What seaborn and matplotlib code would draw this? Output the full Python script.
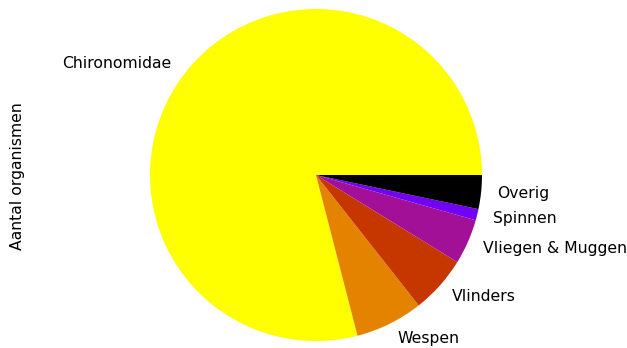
import matplotlib
matplotlib.use("Agg")
import matplotlib.pyplot as plt
import numpy as np
import seaborn as sns

# Counts of organisms per group
categories = ["Chironomidae", "Wespen", "Vlinders", "Vliegen & Muggen", "Spinnen", "Overig"]
counts = [791, 66, 56, 44, 11, 33]
series_name = "Aantal organismen"

sns.set_style("white", {"text.color": "black", "axes.labelcolor": "black"})
plt.rcParams["font.family"] = ["DejaVu Sans"]
FS = 11.25

cmap = matplotlib.colormaps["gnuplot_r"]
colors = [cmap(v) for v in np.linspace(0, 1, len(categories))]

fig = plt.figure(figsize=(6.27, 3.48), dpi=100)
ax = fig.add_axes([0, 0, 1, 1])
ax.pie(counts, labels=categories, colors=colors, labeldistance=1.1,
       wedgeprops={"linewidth": 0, "edgecolor": "none"},
       textprops={"fontsize": FS, "color": "black"})

# equal scaling on both axes: 166 px per data unit
ax.set_xlim(-316 / 166, 311 / 166)
ax.set_ylim(-173 / 166, 175 / 166)
ax.set_frame_on(False)
ax.set_xticks([])
ax.set_yticks([])
ax.set_ylabel(series_name, fontsize=FS, color="black")
ax.yaxis.set_label_coords(0.040, 0.494)

fig.savefig("out.png", dpi=100, facecolor="white")
